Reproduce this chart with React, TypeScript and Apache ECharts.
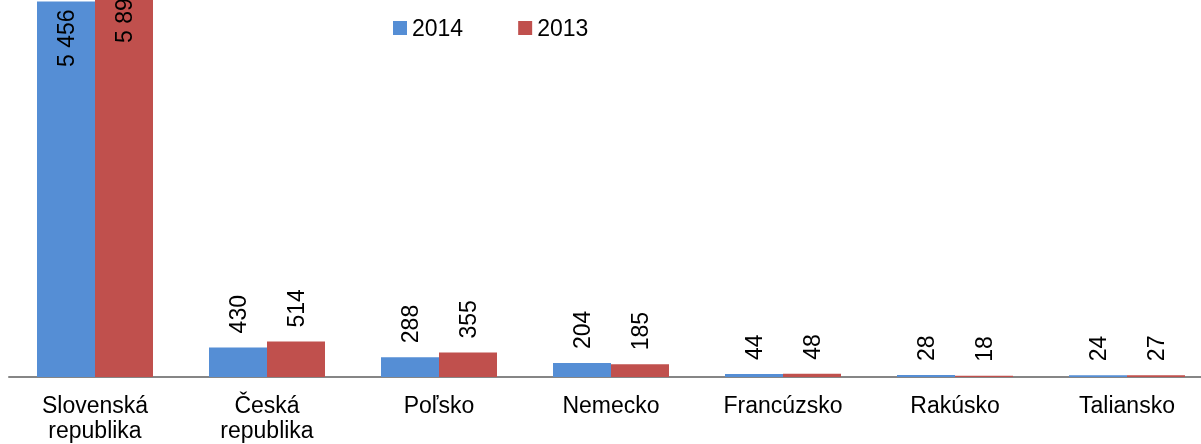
import React, { useEffect, useRef } from "react";
import * as echarts from "echarts";

const categories = [
  "Slovenská\nrepublika",
  "Česká\nrepublika",
  "Poľsko",
  "Nemecko",
  "Francúzsko",
  "Rakúsko",
  "Taliansko",
];
const values2014 = [5456, 430, 288, 204, 44, 28, 24];
const values2013 = [5893, 514, 355, 185, 48, 18, 27];
const seriesNames = ["2014", "2013"];
const colors = ["#558ED5", "#C0504D"];

const FONT = "'Liberation Sans', Arial, sans-serif";
const SHIFT = 36;

function fmt(v: number): string {
  return String(v).replace(/\B(?=(\d{3})+(?!\d))/g, " ");
}

function buildData(values: number[], firstDistance: number) {
  return values.map((v, i) => {
    if (i === 0) {
      return {
        value: v,
        label: {
          position: "insideTop",
          align: "right",
          distance: firstDistance,
        },
      };
    }
    return { value: v };
  });
}

export default function App() {
  const ref = useRef<HTMLDivElement>(null);
  useEffect(() => {
    if (!ref.current) return;
    const chart = echarts.init(ref.current, undefined, { renderer: "svg" });
    const mkSeries = (name: string, values: number[], color: string, firstDistance: number) => ({
      name,
      type: "bar",
      barWidth: 58,
      barGap: "0%",
      itemStyle: { color },
      label: {
        show: true,
        position: "top",
        rotate: 90,
        align: "left",
        verticalAlign: "middle",
        distance: 14,
        color: "#000",
        fontSize: 23,
        fontFamily: FONT,
        formatter: (p: any) => fmt(p.value),
      },
      data: buildData(values, firstDistance),
    });
    chart.setOption({
      animation: false,
      legend: {
        left: 393,
        top: 16 + SHIFT,
        padding: 0,
        itemWidth: 14,
        itemHeight: 14,
        itemGap: 55,
        icon: "rect",
        textStyle: { fontSize: 23, fontFamily: FONT, color: "#000", lineHeight: 24 },
        data: seriesNames,
      },
      grid: { left: 9, right: 0, top: 0, bottom: 67, containLabel: false },
      xAxis: {
        type: "category",
        data: categories,
        axisLine: { lineStyle: { color: "#868686", width: 2 } },
        axisTick: { show: false },
        axisLabel: {
          interval: 0,
          margin: 15,
          fontSize: 23,
          lineHeight: 25,
          color: "#000",
          fontFamily: FONT,
        },
      },
      yAxis: {
        type: "value",
        min: 0,
        max: 6000,
        show: false,
        splitLine: { show: false },
      },
      series: [
        mkSeries(seriesNames[0], values2014, colors[0], 8),
        mkSeries(seriesNames[1], values2013, colors[1], 14),
      ],
    });
    return () => chart.dispose();
  }, []);
  return (
    <div
      style={{
        position: "fixed",
        left: 0,
        top: 0,
        width: 1201,
        height: 444,
        overflow: "hidden",
      }}
    >
      <div
        ref={ref}
        style={{ position: "absolute", left: 0, top: -SHIFT, width: 1213, height: 444 + SHIFT }}
      />
    </div>
  );
}
